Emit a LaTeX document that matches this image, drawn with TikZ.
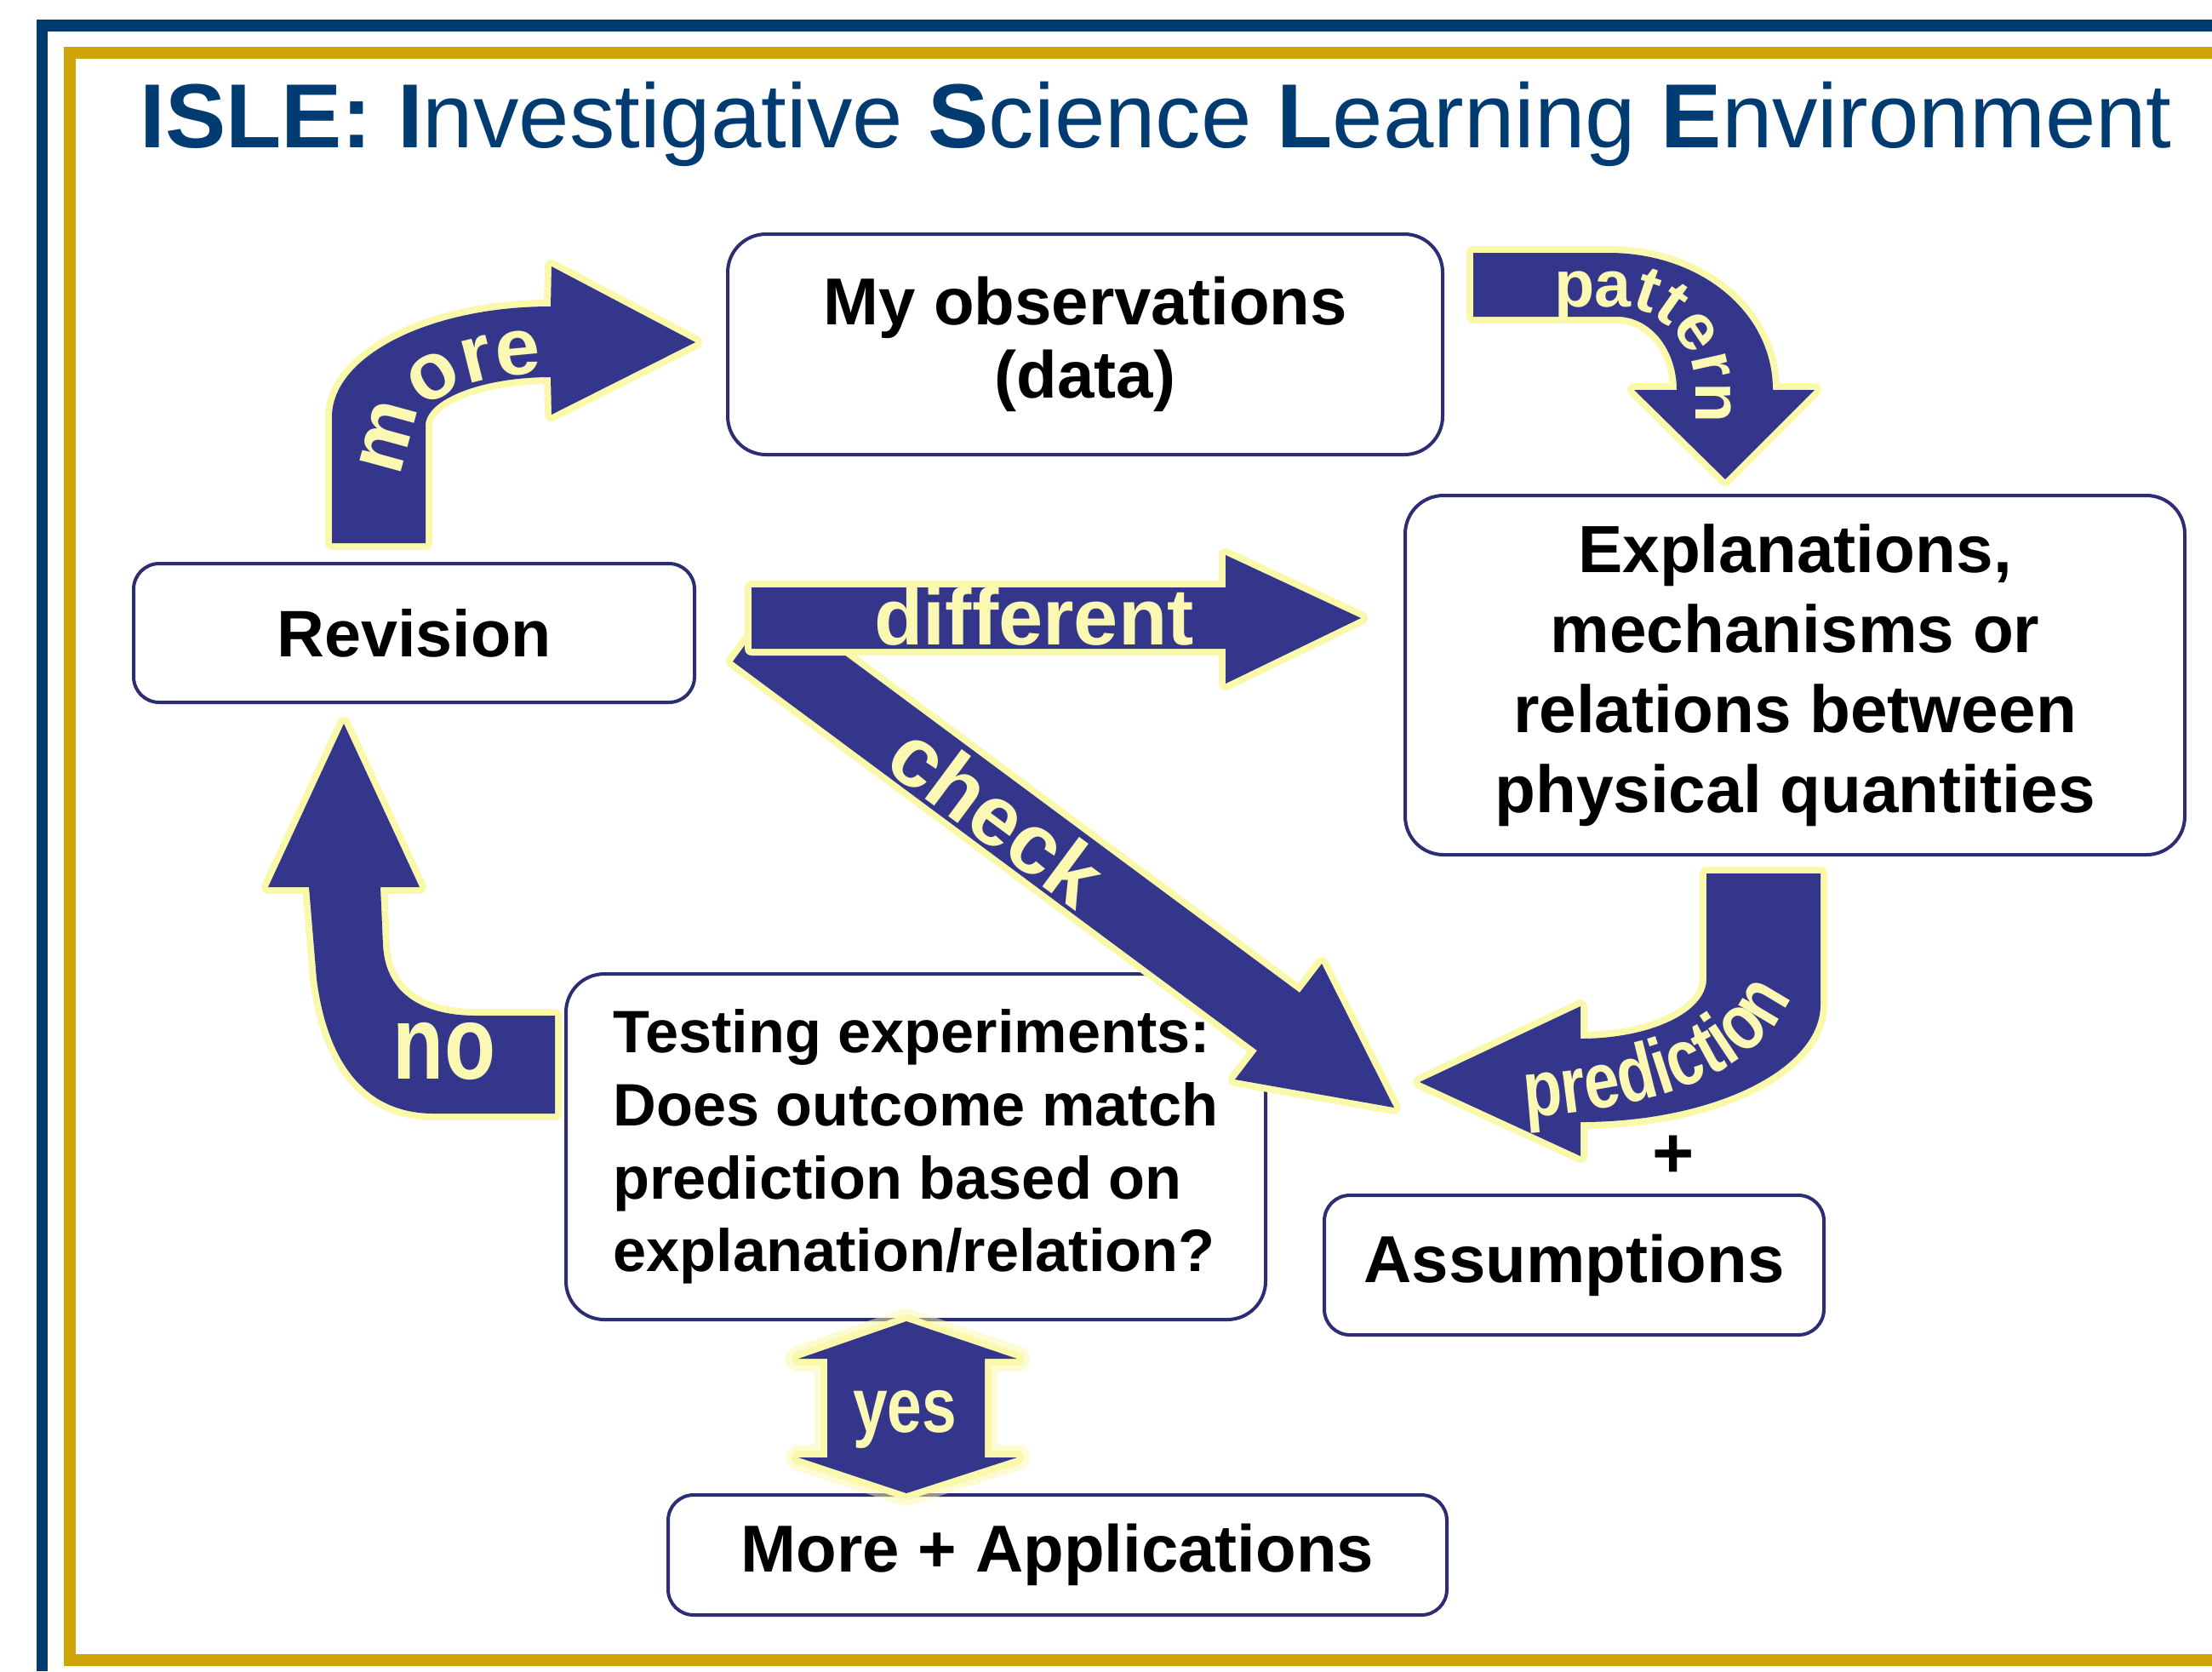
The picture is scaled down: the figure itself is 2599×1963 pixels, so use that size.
\documentclass[tikz,border=0pt]{standalone}
\usepackage{fontspec}
\setmainfont{Liberation Sans}
\newfontfamily\lblfont{Liberation Sans}
\newfontfamily\narrowlbl[FakeStretch=0.8]{Liberation Sans}
\usetikzlibrary{positioning}
\usetikzlibrary{decorations.text}
\definecolor{frameblue}{RGB}{0,59,114}
\definecolor{framegold}{RGB}{206,164,8}
\definecolor{arrowblue}{RGB}{52,54,140}
\definecolor{glowyellow}{RGB}{250,248,170}
\definecolor{lblyellow}{RGB}{250,248,178}
\definecolor{boxline}{RGB}{45,45,115}
\newcommand\morefmt{\lblfont\bfseries\fontsize{27}{30}\selectfont\color{lblyellow}}
\newcommand\patfmt{\lblfont\bfseries\fontsize{22}{26}\selectfont\color{lblyellow}}
\newcommand\predfmt{\narrowlbl\bfseries\fontsize{26.5}{30}\selectfont\color{lblyellow}}
\tikzset{
    box/.style={
           rectangle,
           rounded corners=4.5mm,
           draw=boxline, line width=0.4mm,
           fill=white,
           align=center,
           },
}
\tikzset{
    fatarrow/.style={
           fill=arrowblue,
           preaction={draw=glowyellow, line width=1.6mm, line join=round},
           },
}
\tikzset{
    lbl/.style={
           text=lblyellow,
           inner sep=0pt,
           },
}

\begin{document}
\begin{tikzpicture}[x=0.1mm,y=-0.1mm]
\useasboundingbox (0,0) rectangle (2599,1963);
\fill[white] (0,0) rectangle (2599,1963);
\draw[frameblue, line width=1.35mm] (2599,30) -- (49.5,30) -- (49.5,1963);
\draw[framegold, line width=1.4mm] (2599,62) -- (81.5,62) -- (81.5,1950) -- (2599,1950);
\node[anchor=base, text=frameblue, font=\fontsize{30.4}{36}\selectfont](title) at (1358,173){\textbf{ISLE: I}nvestigative \textbf{S}cience \textbf{L}earning \textbf{E}nvironment};
\node[box, minimum width=84mm, minimum height=25.9mm, font=\bfseries\fontsize{22.2}{24.6}\selectfont](obs) at (1275,404.5){My observations\\(data)};
\node[box, minimum width=91.6mm, minimum height=42.2mm, font=\bfseries\fontsize{22.3}{26.7}\selectfont](expl) at (2109,793){Explanations,\\mechanisms or\\relations between\\physical quantities};
\node[box, rounded corners=3mm, minimum width=65.9mm, minimum height=16.3mm, font=\bfseries\fontsize{22}{26}\selectfont](rev) at (486.5,743.5){Revision};
\node[box, minimum width=82.2mm, minimum height=40.6mm, align=left, font=\bfseries\fontsize{20}{24.4}\selectfont](test) at (1076,1347){Testing experiments:\\Does outcome match\\prediction based on\\explanation/relation?};
\node[box, rounded corners=3mm, minimum width=58.7mm, minimum height=16.4mm, font=\bfseries\fontsize{22.2}{26}\selectfont](assum) at (1849.5,1486){Assumptions};
\node[box, rounded corners=3mm, minimum width=91.5mm, minimum height=14.1mm, font=\bfseries\fontsize{22.2}{26}\selectfont](apps) at (1242.5,1826.5){More + Applications};
\node[font=\bfseries\fontsize{24}{28}\selectfont, above=0.6mm of assum, xshift=11.65mm](plus){+};
\path[fatarrow] (861,777) -- (911,709) -- (1527,1166) -- (1553,1132) -- (1638,1301) -- (1451,1268) -- (1477,1234) -- cycle;
\node[lbl, rotate=-36.6, font=\lblfont\bfseries\fontsize{28.5}{30}\selectfont](checklbl) at (1172,957){check};
\path[fatarrow] (883,690) -- (1440,690) -- (1440,652) -- (1599,726) -- (1440,803) -- (1440,762) -- (883,762) -- cycle;
\node[lbl, anchor=base, font=\lblfont\bfseries\fontsize{26.7}{30}\selectfont](difflbl) at (1215,757){different};
\path[fatarrow] (390,638) -- (390,490) .. controls (390,418) and (505,360) .. (647,360) -- (648,313) -- (817,402) -- (648,487) -- (647,443) .. controls (566,443) and (500,469) .. (500,500) -- (500,638) -- cycle;
\path[decorate, decoration={text along path, text={|\morefmt|more}, text align=left}] (476,562) .. controls (474,475) and (530,440) .. (648,438);
\path[fatarrow] (1731,297) -- (1890,297) .. controls (1997,297) and (2083,366) .. (2083,458) -- (2132,458) -- (2027,563) -- (1920,458) -- (1970,458) .. controls (1970,410) and (1939,372) .. (1900,372) -- (1731,372) -- cycle;
\path[decorate, decoration={text along path, text={|\patfmt|pattern}, text align=left}] (1826,360) -- (1900,360) .. controls (1950,360) and (1992,402) .. (1992,457) -- (1992,560);
\path[fatarrow] (2005,1026) -- (2139,1026) -- (2139,1180) .. controls (2139,1256) and (2013,1318) .. (1857,1318) -- (1857,1358) -- (1668,1271) -- (1857,1182) -- (1857,1220) .. controls (1939,1220) and (2005,1189) .. (2005,1150) -- cycle;
\path[decorate, decoration={text along path, text={|\predfmt|prediction}, text align=left}] (1792,1312) .. controls (1950,1302) and (2088,1258) .. (2112,1145);
\path[fatarrow] (652,1193) -- (560,1193) .. controls (500,1193) and (453,1170) .. (450,1110) -- (447,1042) -- (493,1042) -- (404,850) -- (315,1042) -- (363,1042) -- (372,1150) .. controls (385,1250) and (430,1308) .. (510,1308) -- (652,1308) -- cycle;
\node[lbl, anchor=base, font=\narrowlbl\bfseries\fontsize{35}{40}\selectfont](nolbl) at (522,1267){no};
\path[fatarrow, preaction={draw=glowyellow, opacity=0.5, line width=3mm, line join=round}] (1065,1552) -- (1195,1596) -- (1157,1596) -- (1157,1712) -- (1195,1712) -- (1065,1754) -- (938,1712) -- (972,1712) -- (972,1596) -- (938,1596) -- cycle;
\node[lbl, anchor=base, font=\narrowlbl\bfseries\fontsize{26}{30}\selectfont](yeslbl) at (1063,1682){yes};
\end{tikzpicture}
\end{document}
